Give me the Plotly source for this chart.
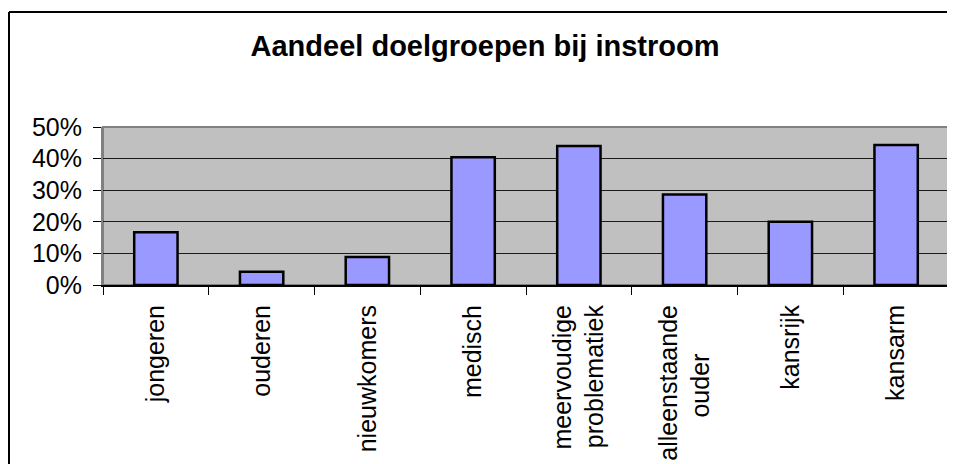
import plotly.graph_objects as go

# categorieën en aandelen
doelgroepen = [
    "jongeren",
    "ouderen",
    "nieuwkomers",
    "medisch",
    "meervoudige<br>problematiek",
    "alleenstaande<br>ouder" + "\u00a0" * 7,  # tweede regel gecentreerd
    "kansrijk",
    "kansarm",
]
aandeel = [0.167, 0.042, 0.089, 0.404, 0.440, 0.286, 0.200, 0.443]

y_ticks = [0, 0.1, 0.2, 0.3, 0.4, 0.5]
y_labels = ["0%", "10%", "20%", "30%", "40%", "50%"]

# de pagina heeft 8px body-marge, dus figuur 8px kleiner
W, H = 947, 456
L, R, T, B = 95, 6, 119, 179
pw, ph = W - L - R, H - T - B

fig = go.Figure(
    go.Bar(
        x=doelgroepen,
        y=aandeel,
        marker=dict(color="#9999FF", line=dict(color="black", width=2.5)),
    )
)

font = "Arial, Liberation Sans, sans-serif"

fig.update_layout(
    width=W,
    height=H,
    margin=dict(l=L, r=R, t=T, b=B, autoexpand=False),
    paper_bgcolor="white",
    plot_bgcolor="#C0C0C0",
    bargap=0.59,
    showlegend=False,
    font=dict(family=font, color="black"),
    title=dict(
        text="<b>Aandeel doelgroepen bij instroom</b>",
        font=dict(size=29, family=font, color="black"),
        x=(485 - 8) / W,
        xanchor="center",
        y=1 - 38 / H,
        yanchor="middle",
    ),
)

fig.update_xaxes(
    tickangle=-90,
    tickfont=dict(size=25),
    ticks="outside",
    tickson="boundaries",
    ticklen=8,
    tickcolor="black",
    tickwidth=1,
    ticklabelstandoff=8,
    showline=True,
    linecolor="black",
    linewidth=2,
    showgrid=False,
    automargin=False,
)

fig.update_yaxes(
    range=[0, 0.5],
    tickvals=y_ticks,
    ticktext=y_labels,
    tickfont=dict(size=25),
    ticks="outside",
    ticklen=8,
    tickcolor="black",
    ticklabelstandoff=6,
    showgrid=True,
    gridcolor="#1a1a1a",
    gridwidth=1,
    zeroline=False,
    showline=True,
    linecolor="#808080",
    linewidth=2,
    automargin=False,
)

# grijze rand rond het plotgebied
fig.add_shape(
    type="rect", xref="paper", yref="paper", x0=0, x1=1, y0=0, y1=1,
    line=dict(color="#808080", width=2), layer="below",
)

# buitenkader: alleen linker- en bovenrand zijn zichtbaar
x_left = (1 - L) / pw
y_top = (H - B - 4) / ph
fig.add_shape(
    type="line", xref="paper", yref="paper",
    x0=x_left, x1=(W + 20 - L) / pw, y0=y_top, y1=y_top,
    line=dict(color="black", width=2),
)
fig.add_shape(
    type="line", xref="paper", yref="paper",
    x0=x_left, x1=x_left, y0=y_top, y1=-(B + 20) / ph,
    line=dict(color="black", width=2),
)

fig.write_html("out.html", post_script="document.body.style.overflow='hidden';")
